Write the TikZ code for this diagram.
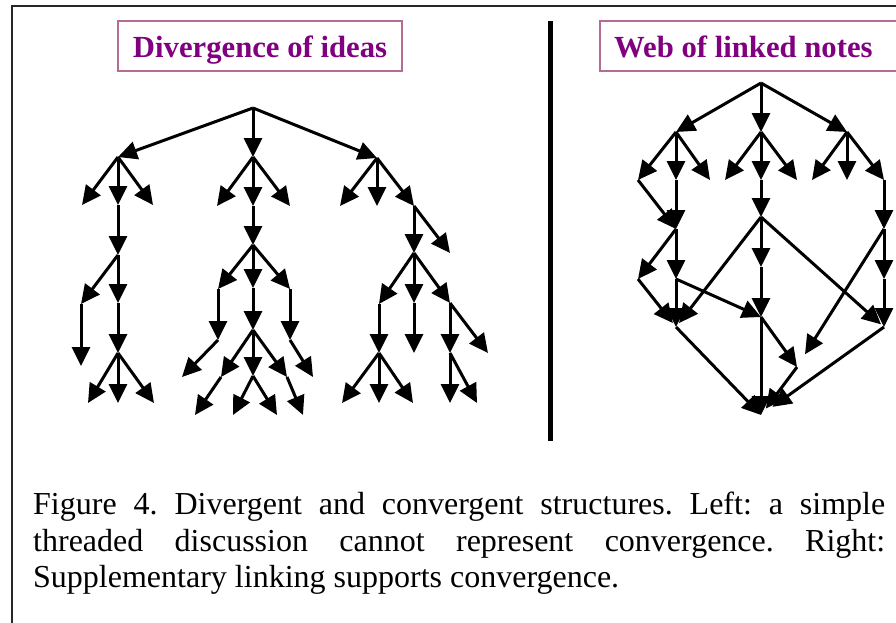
\documentclass[tikz,border=0pt]{standalone}
\usepackage{fontspec}
\setmainfont{Liberation Serif}
\usetikzlibrary{arrows.meta}
\definecolor{titlepurple}{HTML}{800080}
\definecolor{boxrose}{HTML}{B66A94}

\begin{document}
\begin{tikzpicture}[x=1pt,y=-1pt,
  edge/.style={line width=3pt,-{Triangle[length=19pt,width=18pt]}},
  titlebox/.style={draw=boxrose,line width=1.4pt},
  titletext/.style={text=titlepurple,inner sep=0pt,
    font=\fontsize{30.7}{34}\selectfont\bfseries},
  captext/.style={anchor=base west,inner sep=0pt,
    font=\fontsize{32}{36.5}\selectfont\frenchspacing},
]
\useasboundingbox (0,0) rectangle (896,622);
\clip (0,0) rectangle (896,622);
\fill[white] (0,0) rectangle (896,622);

% outer frame
\draw[line width=2pt,black!85] (930,6) -- (12,6) -- (12,650);

% headings
\draw[titlebox] (118,21) rectangle (402,71);
\node (t1) [titletext,anchor=base] at (260,57) {Divergence of ideas};
\draw[titlebox] (600,21) rectangle (930,71);
\node (t2) [titletext,anchor=base west] at (614,57) {Web of linked notes};

% divider
\draw[line width=5pt] (550,21) -- (550,441);

% ---------- threaded tree ----------
\coordinate (R) at (253,108);
\coordinate (a1) at (118,157); \coordinate (a2) at (253,157); \coordinate (a3) at (377,158);
\coordinate (b1) at (82,205);  \coordinate (b2) at (118,205); \coordinate (b3) at (153,205);
\coordinate (b4) at (217,206); \coordinate (b5) at (253,206); \coordinate (b6) at (290,206);
\coordinate (b7) at (340,206); \coordinate (b8) at (377,206); \coordinate (b9) at (414,206);
\coordinate (c1) at (118,255); \coordinate (c2) at (253,245);
\coordinate (c3) at (414,253); \coordinate (c4) at (450,253);
\coordinate (d1) at (81,304);  \coordinate (d2) at (118,303);
\coordinate (d3) at (218,289); \coordinate (d4) at (253,288); \coordinate (d5) at (290,289);
\coordinate (d6) at (379,304); \coordinate (d7) at (414,303); \coordinate (d8) at (450,303);
\coordinate (e1) at (81,366);  \coordinate (e2) at (118,353);
\coordinate (e3) at (218,340); \coordinate (e4) at (253,330); \coordinate (e5) at (290,340);
\coordinate (e6) at (379,353); \coordinate (e7) at (414,353);
\coordinate (e8) at (450,353); \coordinate (e9) at (488,353);
\coordinate (f1) at (88,403);  \coordinate (f2) at (118,403); \coordinate (f3) at (154,403);
\coordinate (f4) at (182,377); \coordinate (f5) at (221,377); \coordinate (f6) at (253,376);
\coordinate (f7) at (287,377); \coordinate (f8) at (313,377);
\coordinate (f9) at (342,403); \coordinate (f10) at (379,403); \coordinate (f11) at (413,403);
\coordinate (f12) at (450,403); \coordinate (f13) at (477,403);
\coordinate (g1) at (195,415); \coordinate (g2) at (233,415);
\coordinate (g3) at (277,415); \coordinate (g4) at (303,415);

\foreach \p/\c in {R/a1,R/a2,R/a3,
  a1/b1,a1/b2,a1/b3,a2/b4,a2/b5,a2/b6,a3/b7,a3/b8,a3/b9,
  b2/c1,b5/c2,b9/c3,b9/c4,
  c1/d1,c1/d2,c2/d3,c2/d4,c2/d5,c3/d6,c3/d7,c3/d8,
  d1/e1,d2/e2,d3/e3,d4/e4,d5/e5,d6/e6,d7/e7,d8/e8,d8/e9,
  e2/f1,e2/f2,e2/f3,e3/f4,e4/f5,e4/f6,e4/f7,e5/f8,
  e6/f9,e6/f10,e6/f11,e8/f12,e8/f13,
  f5/g1,f6/g2,f6/g3,f7/g4}
  \draw[edge] (\p) -- (\c);

% ---------- linked web ----------
\coordinate (W) at (761,83);
\coordinate (w1) at (676,132); \coordinate (w2) at (761,132); \coordinate (w3) at (847,132);
\coordinate (x1) at (638,180); \coordinate (x2) at (676,180); \coordinate (x3) at (710,180);
\coordinate (x4) at (725,180); \coordinate (x5) at (761,180); \coordinate (x6) at (797,180);
\coordinate (x7) at (812,180); \coordinate (x8) at (847,180); \coordinate (x9) at (884,180);
\coordinate (y1) at (676,229); \coordinate (y2) at (761,217); \coordinate (y3) at (884,229);
\coordinate (z1) at (638,279); \coordinate (z2) at (676,279);
\coordinate (z3) at (761,267); \coordinate (z4) at (884,279);
\coordinate (m) at (761,317);
\coordinate (L) at (676,327); \coordinate (Rb) at (884,327);
\coordinate (D) at (797,367);
\coordinate (F) at (761,415);

\foreach \p/\c in {W/w1,W/w2,W/w3,
  w1/x1,w1/x2,w1/x3,w2/x4,w2/x5,w2/x6,w3/x7,w3/x8,w3/x9,
  x1/y1,x2/y1,x5/y2,x9/y3,
  y1/z1,y1/z2,y2/z3,y3/z4,
  z2/L,z2/m,z3/m,z4/Rb,
  m/F,m/D,L/F}
  \draw[edge] (\p) -- (\c);
\draw[edge,shorten >=5pt] (z1) -- (L);
\draw[edge,shorten >=5pt] (y2) -- (L);
\draw[edge,shorten >=4pt] (y2) -- (Rb);
\draw[edge,shorten >=15pt] (y3) -- (D);
\draw[edge,shorten >=8pt] (D) -- (F);
\draw[edge,shorten >=14pt] (Rb) -- (F);

% caption
\node (cap1) [captext] at (33,514)
  {\makebox[852pt][s]{Figure 4. Divergent and convergent structures. Left: a simple}};
\node (cap2) [captext] at (33,551)
  {\makebox[852pt][s]{threaded discussion cannot represent convergence. Right:}};
\node (cap3) [captext] at (33,587)
  {Supplementary linking supports convergence.};
\end{tikzpicture}
\end{document}
